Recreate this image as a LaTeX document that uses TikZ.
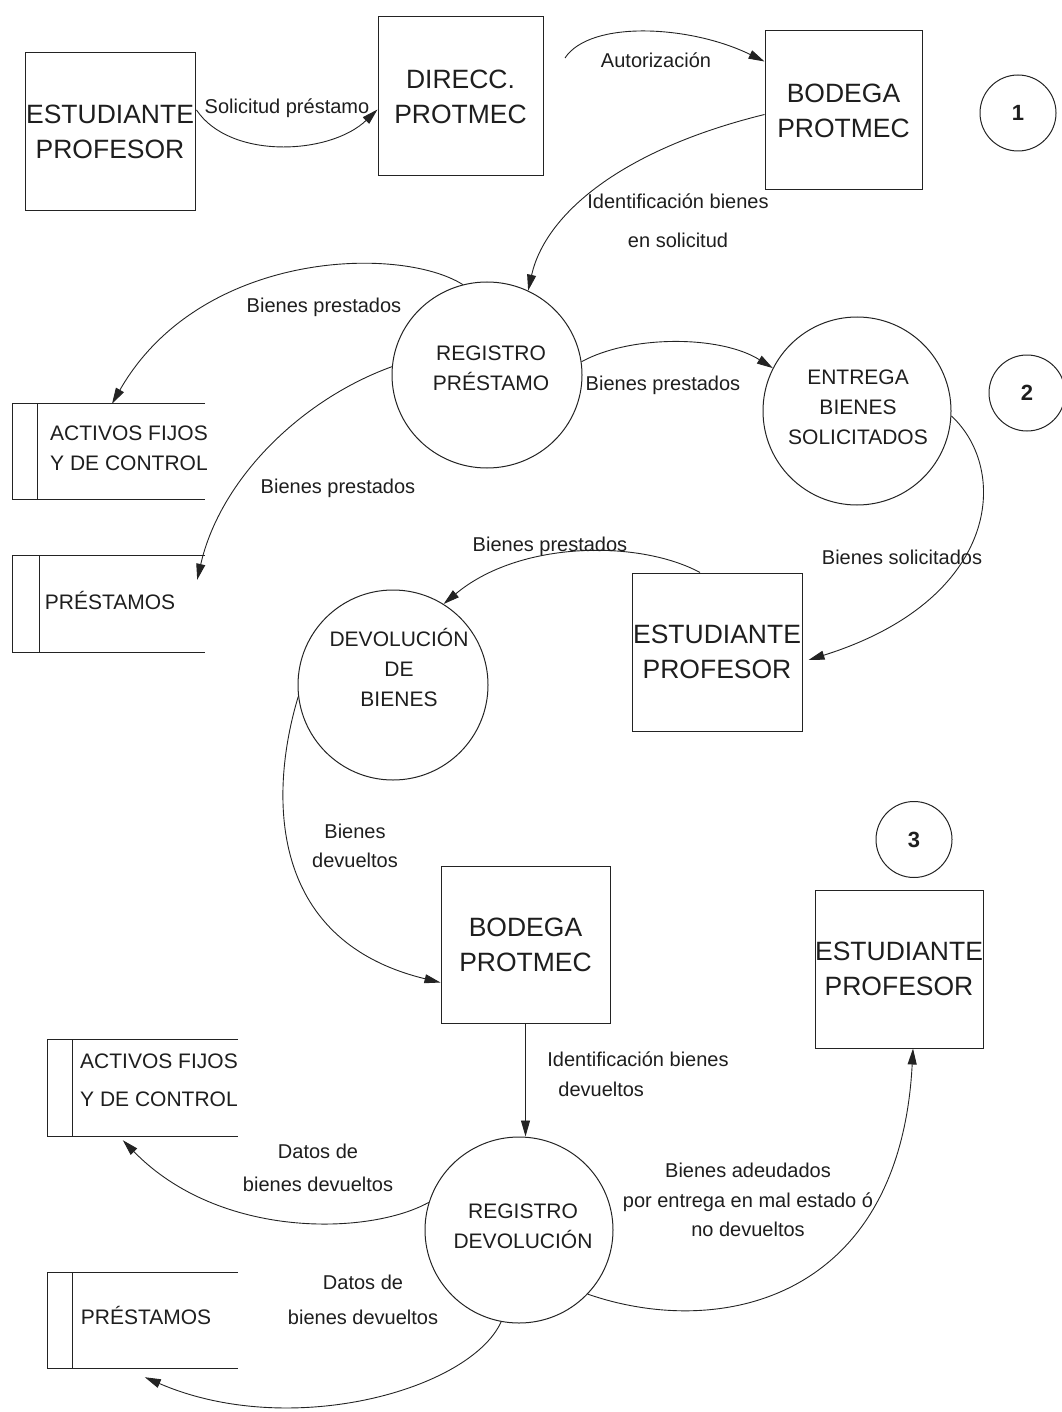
\documentclass[tikz,border=0pt]{standalone}
\usepackage{fontspec}
\setmainfont{Liberation Sans}
\usetikzlibrary{arrows.meta,calc,shapes.geometric}
\definecolor{linec}{RGB}{35,35,35}
\definecolor{txtc}{RGB}{30,30,30}
\begin{document}
\begin{tikzpicture}[x=1pt,y=-1pt,
  entity/.style={draw=linec, line width=1pt, rectangle, inner sep=0pt, minimum width=168pt, minimum height=158pt, align=center, font=\fontsize{26.5}{35}\selectfont, text=txtc},
  proc/.style={draw=linec, line width=1pt, ellipse, inner sep=0pt},
  proctext/.style={align=center, font=\fontsize{21}{30}\selectfont, text=txtc, inner sep=0pt},
  store/.style={inner sep=0pt, minimum width=192pt, minimum height=95pt},
  storeline/.style={draw=linec, line width=1pt},
  storetext/.style={align=center, font=\fontsize{21}{30}\selectfont, text=txtc, inner sep=0pt},
  flowlabel/.style={align=center, font=\fontsize{20}{24}\selectfont, text=txtc, inner sep=0pt},
  flow/.style={draw=linec, line width=0.9pt, -{Triangle[length=16pt,width=9pt]}},
  numc/.style={draw=linec, line width=1pt, circle, minimum size=76pt, inner sep=0pt, font=\bfseries\fontsize{22}{26}\selectfont, text=txtc}
]
\useasboundingbox (0,0) rectangle (1061,1412);

% ---------- entities ----------
\node[entity, minimum width=170pt] (e1) at (110,132) {ESTUDIANTE\\PROFESOR};
\node[entity, minimum width=165pt, minimum height=159pt] (d1) at (460.5,96.5) {DIRECC.\\PROTMEC};
\node[entity, minimum width=157pt, minimum height=159pt] (b1) at (843.5,110.5) {BODEGA\\PROTMEC};
\node[entity, minimum width=170pt] (e2) at (717,652) {ESTUDIANTE\\PROFESOR};
\node[entity, minimum width=169pt, minimum height=157pt] (b2) at (525.5,944.5) {BODEGA\\PROTMEC};
\node[entity, minimum width=168pt] (e3) at (899,969) {ESTUDIANTE\\PROFESOR};

% ---------- number circles ----------
\node[numc] (n1) at (1018,113) {1};
\node[numc] (n2) at (1027,393) {2};
\node[numc] (n3) at (914,839.5) {3};

% ---------- processes ----------
\node[proc, minimum width=190pt, minimum height=186pt] (rp) at (487,375) {};
\node[proctext] (rpt) at (491,368.5) {REGISTRO\\PRÉSTAMO};
\node[proc, minimum width=188pt, minimum height=188pt] (en) at (857,411) {};
\node[proctext] (ent) at (858,407) {ENTREGA\\BIENES\\SOLICITADOS};
\node[proc, minimum width=190pt, minimum height=190pt] (dv) at (393,685) {};
\node[proctext] (dvt) at (399,667) {DEVOLUCIÓN\\DE\\BIENES};
\node[proc, minimum width=188pt, minimum height=186pt] (rd) at (519,1230) {};
\node[proctext] (rdt) at (523,1226) {REGISTRO\\DEVOLUCIÓN};

% ---------- data stores ----------
\node[store] (s1) at (109,451.5) {};
\draw[storeline] (s1.north east) -- (s1.north west) -- (s1.south west) -- (s1.south east);
\draw[storeline] ($(s1.north west)+(25,0)$) -- ($(s1.south west)+(25,0)$);
\node[storetext] (s1t) at (129,448) {ACTIVOS FIJOS\\ Y DE CONTROL};

\node[store, minimum height=96pt] (s2) at (109,604) {};
\draw[storeline] (s2.north east) -- (s2.north west) -- (s2.south west) -- (s2.south east);
\draw[storeline] ($(s2.north west)+(27,0)$) -- ($(s2.south west)+(27,0)$);
\node[storetext] (s2t) at (110,600) {PRÉSTAMOS};

\node[store, minimum width=190pt, minimum height=96pt] (s3) at (143,1088) {};
\draw[storeline] (s3.north east) -- (s3.north west) -- (s3.south west) -- (s3.south east);
\draw[storeline] ($(s3.north west)+(25,0)$) -- ($(s3.south west)+(25,0)$);
\node[storetext, font=\fontsize{21}{38}\selectfont] (s3t) at (159,1080) {ACTIVOS FIJOS\\ Y DE CONTROL};

\node[store, minimum width=190pt] (s4) at (143,1320.5) {};
\draw[storeline] (s4.north east) -- (s4.north west) -- (s4.south west) -- (s4.south east);
\draw[storeline] ($(s4.north west)+(25,0)$) -- ($(s4.south west)+(25,0)$);
\node[storetext] (s4t) at (146,1315) {PRÉSTAMOS};

% ---------- flows ----------
\coordinate (autstart) at (565,58);
\draw[flow] ($(e1.east)+(1,-22)$) .. controls (230,160) and (330,155) .. ($(d1.west)+(0,13)$);
\draw[flow] (autstart) .. controls (590,20) and (690,25) .. ($(b1.north west)+(0,31)$);
\draw[flow] ($(b1.west)+(0,4)$) .. controls (620,150) and (545,215) .. (rp.64);
\draw[flow] (rp.105) .. controls (400,245) and (200,250) .. ($(s1.north)+(3,0)$);
\draw[flow] (rp.175) .. controls (300,400) and (220,480) .. ($(s2.north east)+(-8,24)$);
\draw[flow] (rp.8) .. controls (630,335) and (720,335) .. (en.153);
\draw[flow] (en.-3) .. controls (1010,470) and (1000,600) .. ($(e2.east)+(6,8)$);
\draw[flow] ($(e2.north)+(-17,0)$) .. controls (640,540) and (520,540) .. (dv.58);
\draw[flow] (dv.187) .. controls (270,790) and (265,940) .. ($(b2.west)+(0,38)$);
\draw[flow] (b2.south) -- (b2.south |- rd.north);
\draw[flow] (rd.163) .. controls (370,1235) and (220,1240) .. ($(s3.south west)+(75,4)$);
\draw[flow] (rd.259) .. controls (470,1390) and (290,1440) .. ($(s4.south west)+(97,9)$);
\draw[flow] (rd.-43) .. controls (720,1340) and (900,1300) .. ($(e3.south)+(14,0)$);

% ---------- flow labels ----------
\node[flowlabel] (l1) at (287,108) {Solicitud préstamo};
\node[flowlabel] (l2) at (656,60) {Autorización};
\node[flowlabel] (l3) at (678,221) {Identificación bienes\\[15pt]en solicitud};
\node[flowlabel] (l4) at (324,307) {Bienes prestados};
\node[flowlabel] (l5) at (663,385) {Bienes prestados};
\node[flowlabel] (l6) at (338,488) {Bienes prestados};
\node[flowlabel] (l7) at (550,546) {Bienes prestados};
\node[flowlabel] (l8) at (902,557) {Bienes solicitados};
\node[flowlabel] (l9) at (355,846) {Bienes\\[5pt]devueltos};
\node[flowlabel, align=left] (l10) at (638,1074) {Identificación bienes\\[6pt]\hspace*{11pt}devueltos};
\node[flowlabel] (l11) at (318,1168) {Datos de\\[9pt]bienes devueltos};
\node[flowlabel] (l12) at (363,1300) {Datos de\\[11pt]bienes devueltos};
\node[flowlabel] (l13) at (748,1200) {Bienes adeudados\\[6pt]por entrega en mal estado ó\\[5pt]no devueltos};
\end{tikzpicture}
\end{document}
